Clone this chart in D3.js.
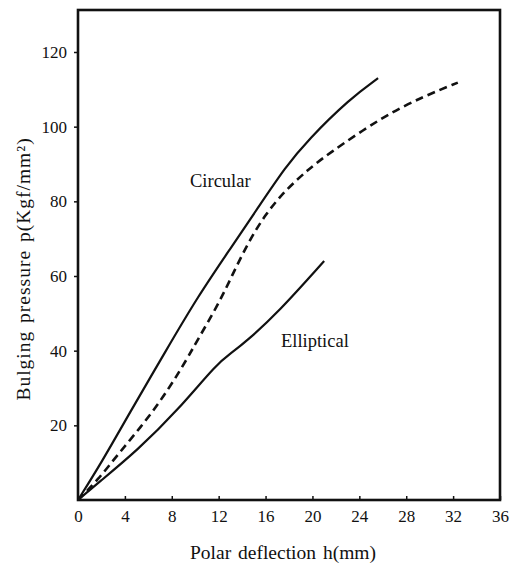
<!DOCTYPE html>
<html>
<head>
<meta charset="utf-8">
<script src="https://cdn.jsdelivr.net/npm/d3@7"></script>
<style>
  body { margin: 0; background: #fff; }
</style>
</head>
<body>
<div id="chart"></div>
<script>
// circular (solid)
const circularH = [0, 2, 4.4, 7.5, 10.2, 13.1, 15.4, 17.7, 19.6, 23.2, 25.6];
const circularP = [0, 10, 23.3, 40, 54.4, 67.8, 78.5, 89.2, 96.4, 107.5, 113];
// dashed
const dashedH = [0, 1.7, 3.4, 5.7, 7.7, 9.4, 10.2, 11.9, 13.1, 14.5, 16, 17.7, 19.6, 21.2, 26, 29.4, 32.4];
const dashedP = [0, 5.4, 12.2, 20.8, 29.5, 38.3, 42.9, 52, 59.8, 68.9, 76.6, 83, 88.4, 92.4, 102.7, 108, 111.8];
// elliptical (solid)
const ellipticalH = [0, 1.7, 5.1, 8.5, 11.9, 13.1, 14.5, 17, 21];
const ellipticalP = [0, 4.5, 13.4, 24, 36.7, 39.4, 42.9, 50, 64];

const xTicks = [0, 4, 8, 12, 16, 20, 24, 28, 32, 36];
const yTicks = [20, 40, 60, 80, 100, 120];

const serif = 'Liberation Serif';

const width = 510, height = 565;
const svg = d3.select('#chart').append('svg')
  .attr('width', width)
  .attr('height', height)
  .attr('font-family', serif);

const x = d3.scaleLinear().domain([0, 36]).range([78, 500]);
const y = d3.scaleLinear().domain([0, 120]).range([500, 52]);

// frame
svg.append('rect')
  .attr('x', x(0)).attr('y', 10)
  .attr('width', x(36) - x(0)).attr('height', y(0) - 10)
  .attr('fill', 'none').attr('stroke', '#111').attr('stroke-width', 2.6);

// axes
const xAxis = d3.axisBottom(x).tickValues(xTicks).tickSize(-4).tickPadding(10);
const gx = svg.append('g')
  .attr('transform', 'translate(0,' + y(0) + ')')
  .call(xAxis)
  .attr('font-family', serif)
  .attr('font-size', 17);
gx.select('.domain').remove();
gx.selectAll('line').attr('stroke', '#111').attr('stroke-width', 1.5);
gx.selectAll('text').attr('fill', '#111');

const yAxis = d3.axisLeft(y).tickValues(yTicks).tickSize(4).tickPadding(7);
const gy = svg.append('g')
  .attr('transform', 'translate(' + x(0) + ',0)')
  .call(yAxis)
  .attr('font-family', serif)
  .attr('font-size', 17);
gy.select('.domain').remove();
gy.selectAll('line').attr('stroke', '#111').attr('stroke-width', 1.5);
gy.selectAll('text').attr('fill', '#111');

// curves
const line = d3.line()
  .x(d => x(d[0]))
  .y(d => y(d[1]))
  .curve(d3.curveBasis);

const series = [
  { h: circularH, p: circularP, dash: null },
  { h: dashedH, p: dashedP, dash: '8,5' },
  { h: ellipticalH, p: ellipticalP, dash: null }
];

svg.selectAll('path.curve')
  .data(series)
  .enter()
  .append('path')
  .attr('class', 'curve')
  .attr('d', s => line(s.h.map((h, i) => [h, s.p[i]])))
  .attr('fill', 'none')
  .attr('stroke', '#111')
  .attr('stroke-width', s => s.dash ? 2.6 : 2.2)
  .attr('stroke-dasharray', s => s.dash);

// labels
svg.append('text')
  .attr('x', 190).attr('y', 187)
  .attr('font-size', 18.5)
  .attr('fill', '#111')
  .text('Circular');

svg.append('text')
  .attr('x', 281).attr('y', 347)
  .attr('font-size', 18.5)
  .attr('fill', '#111')
  .text('Elliptical');

svg.append('text')
  .attr('x', 283).attr('y', 559)
  .attr('text-anchor', 'middle')
  .attr('font-size', 19.5)
  .attr('word-spacing', 2)
  .attr('fill', '#111')
  .text('Polar deflection h(mm)');

svg.append('text')
  .attr('transform', 'translate(30,269) rotate(-90)')
  .attr('text-anchor', 'middle')
  .attr('font-size', 19.5)
  .attr('letter-spacing', 1).attr('word-spacing', 2)
  .attr('fill', '#111')
  .text('Bulging pressure p(Kgf/mm²)');
</script>
</body>
</html>
